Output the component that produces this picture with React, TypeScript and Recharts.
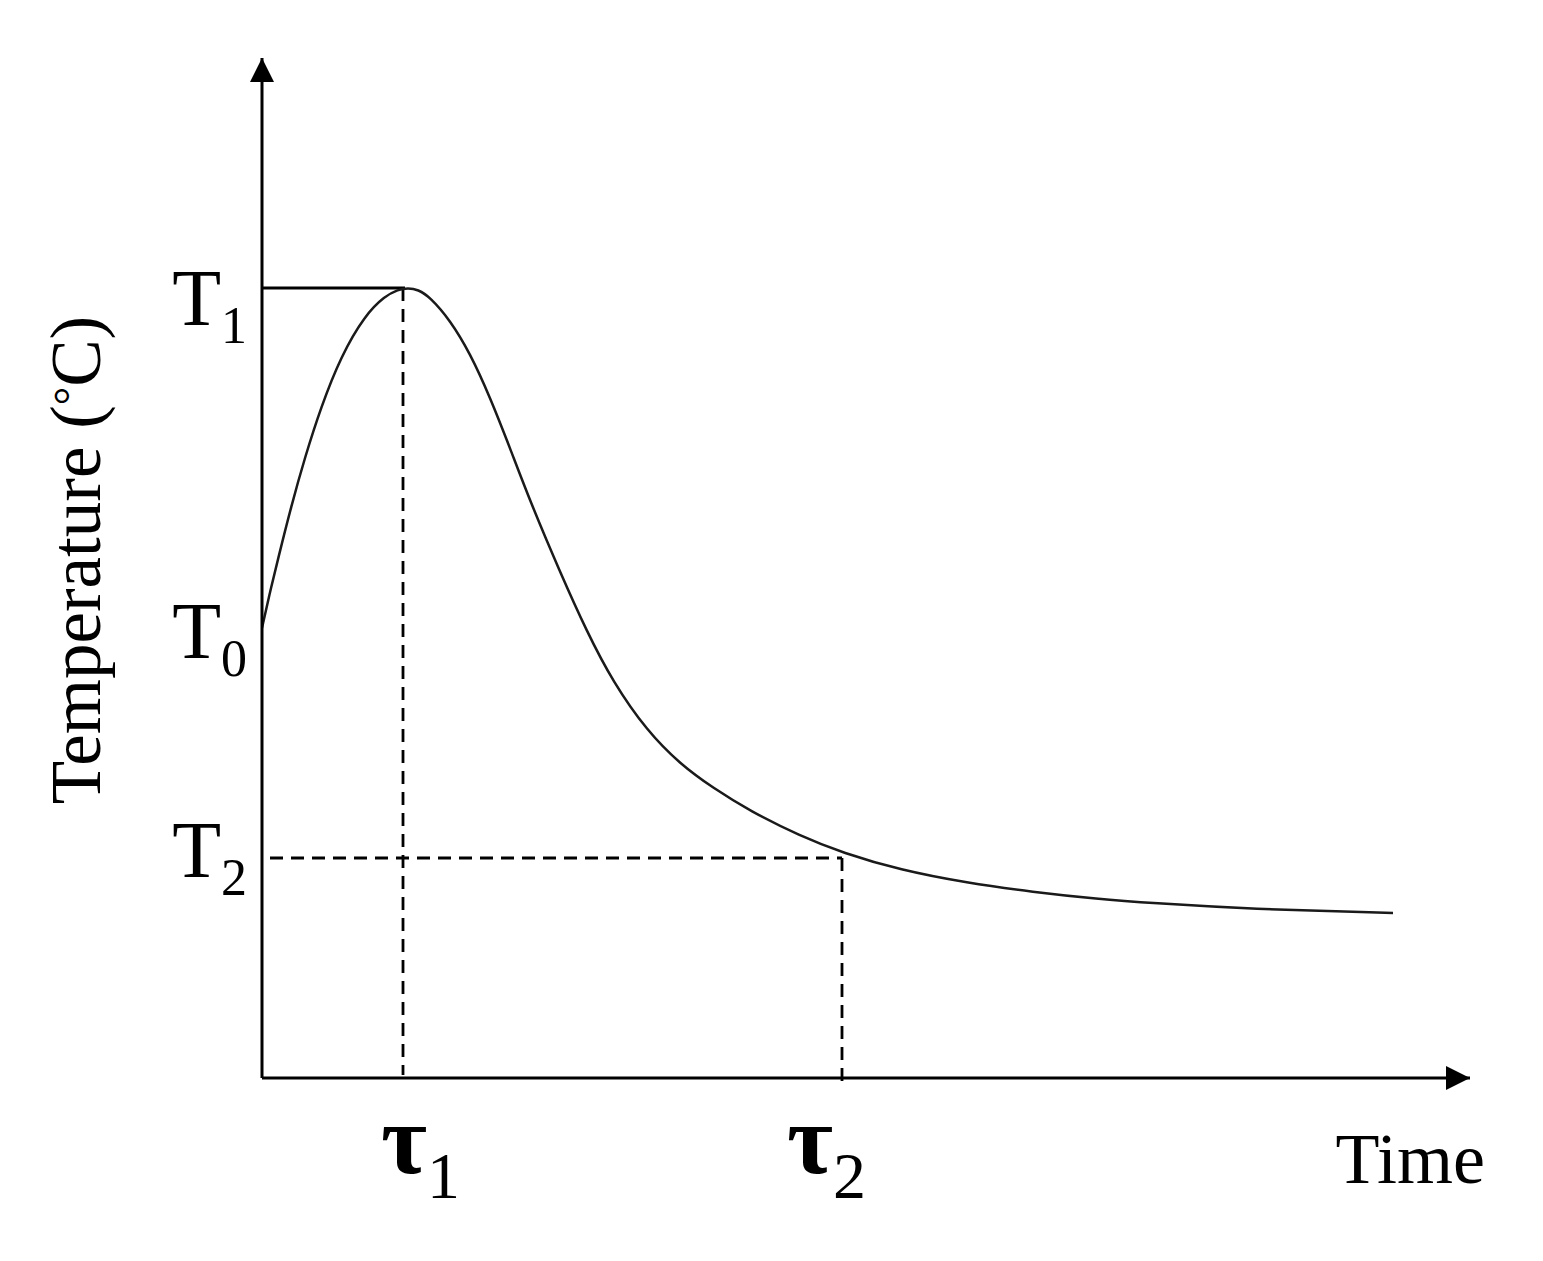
import React from 'react';
import { ComposedChart, Line, XAxis, YAxis, ReferenceLine, ReferenceDot } from 'recharts';

// Curve samples (time in arbitrary units, temperature in arbitrary units)
const timeValues = [0, 0.08, 0.16, 0.29, 0.43, 0.59, 0.79, 1.03, 1.23, 1.36, 1.46, 1.56, 1.68, 1.88, 2.08, 2.28, 2.48, 2.68, 2.98, 3.25, 3.51, 3.85, 4.18, 4.51, 4.88, 5.38, 5.81, 6.38, 7.05, 7.71, 8.36, 8.88, 9.88, 11.31];
const tempValues = [4.50, 4.86, 5.19, 5.71, 6.21, 6.71, 7.22, 7.63, 7.82, 7.885, 7.90, 7.885, 7.81, 7.58, 7.25, 6.81, 6.30, 5.77, 5.06, 4.46, 3.96, 3.47, 3.14, 2.90, 2.67, 2.42, 2.25, 2.08, 1.95, 1.86, 1.79, 1.75, 1.69, 1.65];

// Key levels
const T1 = 7.9;
const T0 = 4.5;
const T2 = 2.2;
const TAU1 = 1.41;
const TAU2 = 5.8;

// Axis extents
const X_MAX = 12.08;
const Y_MAX = 10.2;

// Tick labels
const yTickValues = [T2, T0, T1];
const yTickMain = ['T', 'T', 'T'];
const yTickSubs = ['2', '0', '1'];
const xTickValues = [TAU1, TAU2];
const xTickMain = ['τ', 'τ'];
const xTickSubs = ['1', '2'];

const xAxisTitle = 'Time';
const yAxisTitleMain = 'Temperature (';
const yAxisTitleDeg = '°';
const yAxisTitleEnd = 'C)';

// label placement tweaks (style only)
const yLabelShift: Record<string, number> = { '2': 19, '0': 30, '1': 37 };
const xLabelShift: Record<string, number> = { '1': -22, '2': -55 };

const chartData = timeValues.map((t, i) => ({ time: t, temp: tempValues[i] }));

const FONT = "'Liberation Serif', 'Times New Roman', serif";

const YTick = (props: any) => {
  const { x, y, payload } = props;
  const idx = yTickValues.indexOf(payload.value);
  if (idx < 0) return null;
  const sub = yTickSubs[idx];
  return (
    <text x={x - 15} y={y + yLabelShift[sub]} textAnchor="end" fontFamily={FONT} fill="#000">
      <tspan fontSize={80}>{yTickMain[idx]}</tspan>
      <tspan fontSize={52} dy={18}>{sub}</tspan>
    </text>
  );
};

const XTick = (props: any) => {
  const { x, y, payload } = props;
  const idx = xTickValues.indexOf(payload.value);
  if (idx < 0) return null;
  const sub = xTickSubs[idx];
  return (
    <text x={x + xLabelShift[sub]} y={y + 95} textAnchor="start" fontFamily={FONT} fill="#000">
      <tspan fontSize={100} fontWeight="bold">{xTickMain[idx]}</tspan>
      <tspan fontSize={66} dy={25}>{sub}</tspan>
    </text>
  );
};

const TimeLabel = (props: any) => {
  const vb = props.viewBox || { x: 262, y: 1078, width: 1208, height: 100 };
  return (
    <text x={vb.x + vb.width + 15} y={vb.y + 105} textAnchor="end" fontFamily={FONT} fontSize={72} fill="#000">
      {xAxisTitle}
    </text>
  );
};

const TempLabel = (props: any) => {
  const vb = props.viewBox || { x: 162, y: 58, width: 100, height: 1020 };
  const cx = vb.x - 62;
  const cy = vb.y + vb.height / 2 - 8;
  return (
    <text x={cx} y={cy} textAnchor="middle" fontFamily={FONT} fontSize={71} fill="#000" transform={`rotate(-90, ${cx}, ${cy})`}>
      <tspan>{yAxisTitleMain}</tspan>
      <tspan fontSize={46} dy={-14}>{yAxisTitleDeg}</tspan>
      <tspan dy={14}>{yAxisTitleEnd}</tspan>
    </text>
  );
};

const ArrowRight = (props: any) => {
  const { cx, cy } = props;
  return <polygon points={`${cx},${cy} ${cx - 24},${cy - 12} ${cx - 24},${cy + 12}`} fill="#000" />;
};

const ArrowUp = (props: any) => {
  const { cx, cy } = props;
  return <polygon points={`${cx},${cy} ${cx - 12},${cy + 24} ${cx + 12},${cy + 24}`} fill="#000" />;
};

export default function App() {
  return (
    <div style={{ position: 'absolute', left: 0, top: 0, background: '#fff' }}>
      <ComposedChart
        width={1543}
        height={1261}
        data={chartData}
        margin={{ top: 58, right: 73, bottom: 83, left: 162 }}
      >
        <XAxis
          dataKey="time"
          type="number"
          domain={[0, X_MAX]}
          allowDataOverflow
          ticks={xTickValues}
          interval={0}
          tick={<XTick />}
          tickLine={false}
          tickSize={0}
          tickMargin={0}
          axisLine={{ stroke: '#000', strokeWidth: 3 }}
          height={100}
          label={{ value: xAxisTitle, content: (p: any) => <TimeLabel {...p} /> }}
        />
        <YAxis
          type="number"
          domain={[0, Y_MAX]}
          allowDataOverflow
          ticks={yTickValues}
          interval={0}
          tick={<YTick />}
          tickLine={false}
          tickSize={0}
          tickMargin={0}
          axisLine={{ stroke: '#000', strokeWidth: 3 }}
          width={100}
          label={{ value: 'Temperature', content: (p: any) => <TempLabel {...p} /> }}
        />
        <ReferenceLine
          segment={[{ x: 0, y: T1 }, { x: TAU1 + 0.02, y: T1 }]}
          stroke="#000"
          strokeWidth={3}
          ifOverflow="visible"
        />
        <ReferenceLine
          segment={[{ x: TAU1, y: T1 }, { x: TAU1, y: 0.03 }]}
          stroke="#000"
          strokeWidth={2.8}
          strokeDasharray="13 8"
          ifOverflow="visible"
        />
        <ReferenceLine
          segment={[{ x: 0.08, y: T2 }, { x: TAU2, y: T2 }]}
          stroke="#000"
          strokeWidth={2.8}
          strokeDasharray="13 8"
          ifOverflow="visible"
        />
        <ReferenceLine
          segment={[{ x: TAU2, y: T2 }, { x: TAU2, y: -0.04 }]}
          stroke="#000"
          strokeWidth={2.8}
          strokeDasharray="13 8"
          ifOverflow="visible"
        />
        <Line
          dataKey="temp"
          type="basis"
          stroke="#1a1a1a"
          strokeWidth={2.5}
          dot={false}
          activeDot={false}
          isAnimationActive={false}
        />
        <ReferenceDot x={X_MAX} y={0} ifOverflow="visible" shape={(p: any) => <ArrowRight {...p} />} />
        <ReferenceDot x={0} y={Y_MAX} ifOverflow="visible" shape={(p: any) => <ArrowUp {...p} />} />
      </ComposedChart>
    </div>
  );
}
